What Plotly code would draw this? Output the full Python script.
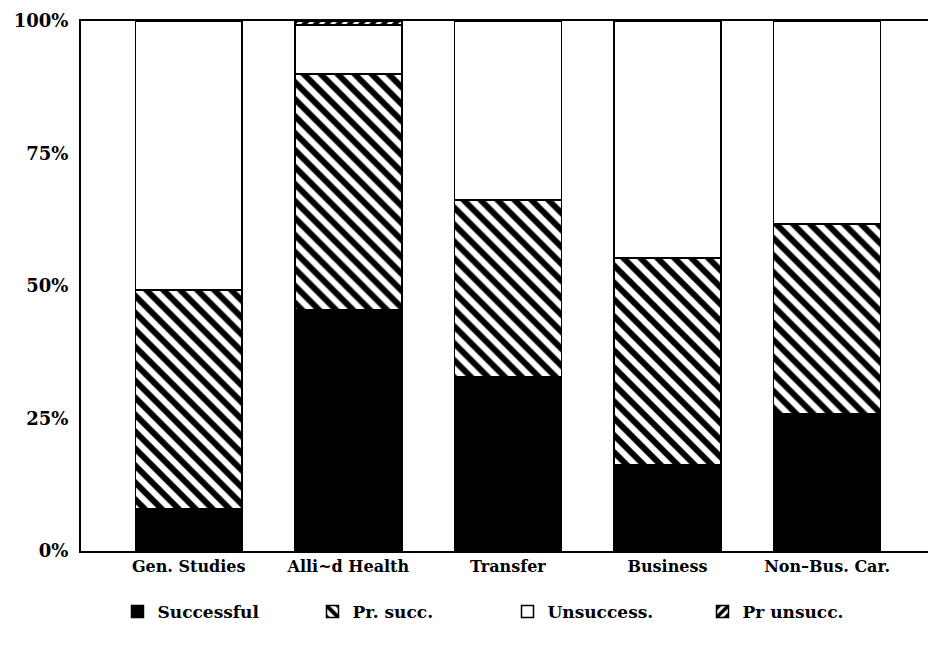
import plotly.graph_objects as go

categories = ["Gen. Studies", "Alli~d Health", "Transfer", "Business", "Non\u2013Bus. Car."]
successful = [7.9, 45.5, 32.8, 16.3, 25.9]
pr_succ = [41.3, 44.5, 33.4, 39.0, 35.8]
pr_unsucc = [0.0, 0.8, 0.0, 0.0, 0.0]
unsuccess = [round(100 - a - b - c, 1) for a, b, c in zip(successful, pr_succ, pr_unsucc)]
y_ticks = [0, 25, 50, 75, 100]
y_tick_labels = ["0%", "25%", "50%", "75%", "100%"]

FONT = "DejaVu Serif"
line = dict(color="black", width=1.5)

fig = go.Figure()
fig.add_trace(go.Bar(name="Successful", x=categories, y=successful,
                     marker=dict(color="black", line=line)))
fig.add_trace(go.Bar(name="Pr. succ.", x=categories, y=pr_succ,
                     marker=dict(color="white", line=line,
                                 pattern=dict(shape="\\", fgcolor="black", bgcolor="white",
                                              fgopacity=1, size=12, solidity=0.5))))
fig.add_trace(go.Bar(name="Unsuccess.", x=categories, y=unsuccess,
                     marker=dict(color="white", line=line)))
fig.add_trace(go.Bar(name="Pr unsucc.", x=categories, y=pr_unsucc,
                     marker=dict(color="white", line=line,
                                 pattern=dict(shape="/", fgcolor="black", bgcolor="white",
                                              fgopacity=1, size=8, solidity=0.55))))

fig.update_layout(
    barmode="stack",
    bargap=0.33,
    width=928, height=647,
    margin=dict(l=73, r=2, t=13, b=104),
    plot_bgcolor="white", paper_bgcolor="white",
    font=dict(family=FONT, color="black", size=16),
    legend=dict(orientation="h", x=0.5, xanchor="center", y=-0.115, yanchor="middle",
                font=dict(family=FONT, size=17, weight="bold"),
                entrywidth=150, entrywidthmode="pixels", traceorder="normal"),
    showlegend=True,
)
fig.update_xaxes(range=[-0.675, 4.67], showline=True, linecolor="black", linewidth=2,
                 mirror=True, ticks="", showgrid=False, automargin=False,
                 tickfont=dict(family=FONT, size=16, weight="bold"))
fig.update_yaxes(range=[0, 100], tickvals=y_ticks, ticktext=y_tick_labels,
                 showline=True, linecolor="black", linewidth=2, mirror=True,
                 ticks="", showgrid=False, zeroline=False, ticklabelstandoff=7,
                 automargin=False,
                 tickfont=dict(family=FONT, size=18, weight="bold"))

fig.write_html("out.html")
